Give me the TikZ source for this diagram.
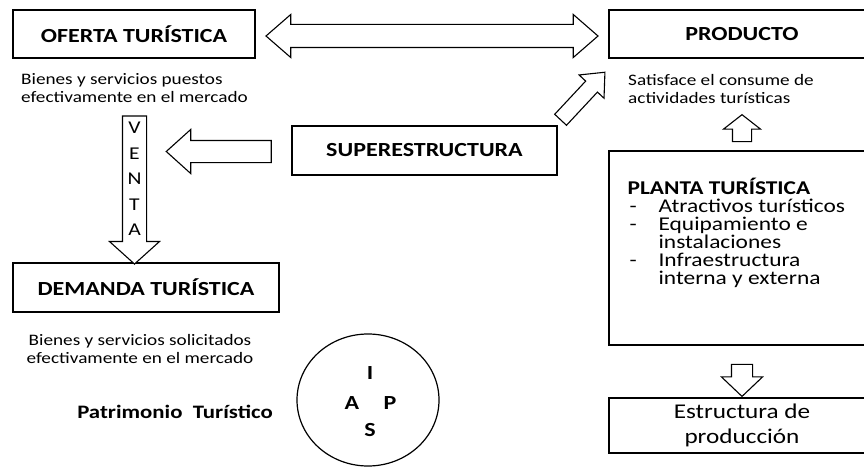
\documentclass[tikz,border=0pt]{standalone}
\usepackage{fontspec}
\setmainfont{Carlito}[FakeStretch=1.2]
\usetikzlibrary{shapes.arrows,shapes.geometric,calc}

\tikzset{
  box/.style={draw, line width=1.2pt, inner sep=0pt},
  headtxt/.style={font=\bfseries\fontsize{20}{24}\selectfont},
  desc/.style={font=\fontsize{16}{18}\selectfont, inner sep=0pt},
  blockarrow/.style={draw, line width=1.1pt, inner xsep=0pt, fill=white},
}

\begin{document}
\begin{tikzpicture}[x=1pt, y=-1pt]
  \useasboundingbox (0,0) rectangle (864,468);
%  \draw [help lines, step=20] (0,0) grid (864,468);

  % boxes
  \node [box, headtxt, minimum width=242, minimum height=48] (oferta) at (134,34) {OFERTA TURÍSTICA};
  \node [box, headtxt, minimum width=266, minimum height=48] (producto) at (742,34) {PRODUCTO};
  \node [box, headtxt, minimum width=265, minimum height=49] (sup) at (424.5,150.5) {SUPERESTRUCTURA};
  \node [box, headtxt, minimum width=266, minimum height=49] (demanda) at (146,287.5) {DEMANDA TURÍSTICA};
  \node [box, minimum width=266, minimum height=194] (planta) at (742,248) {};
  \node [box, minimum width=266, minimum height=55, align=center,
         font=\fontsize{21}{25}\selectfont] (estructura) at (742,425.5) {Estructura de\\producción};

  \node [desc, anchor=west, align=left] (ofertatxt) at (21,88)
    {Bienes y servicios puestos\\efectivamente en el mercado};
  \node [desc, anchor=west, align=left] (productotxt) at (628,89)
    {Satisface el consume de\\actividades turísticas};
  \node [desc, align=center] (demandatxt) at (140,349)
    {Bienes y servicios solicitados\\efectivamente en el mercado};

  \node [anchor=north west, inner sep=0pt, align=left, font=\fontsize{19.5}{18}\selectfont]
    (plantatxt) at ($(planta.north west)+(19,28)$)
    {\textbf{PLANTA TURÍSTICA}\\
     \makebox[31pt][l]{\hspace{2pt}-}Atractivos turísticos\\
     \makebox[31pt][l]{\hspace{2pt}-}Equipamiento e\\
     \hspace*{31pt}instalaciones\\
     \makebox[31pt][l]{\hspace{2pt}-}Infraestructura\\
     \hspace*{31pt}interna y externa};

  % block arrows
  \node [blockarrow, double arrow, inner ysep=11, minimum height=332, minimum width=42,
         double arrow head extend=10, double arrow tip angle=82]
    (ofpr) at ($(oferta.east)!0.5!(producto.west)+(0,2)$) {};
  \node [blockarrow, single arrow, inner ysep=10.5, minimum height=105, minimum width=43,
         single arrow head extend=11, single arrow tip angle=84, rotate=180]
    (supof) at ($(sup.west)+(-66.5,1)$) {};
  \node [blockarrow, single arrow, inner ysep=11.5, minimum height=148, minimum width=49,
         single arrow head extend=13, single arrow tip angle=96, rotate=-90]
    (venta) at ($(oferta.south)+(0.5,126)$) {};
  \node [font=\fontsize{18}{25.5}\selectfont, align=center, inner sep=0pt]
    (ventatxt) at (134.5,179) {V\\E\\N\\T\\A};
  \node [blockarrow, single arrow, inner ysep=7.5, minimum height=65, minimum width=33,
         single arrow head extend=9, single arrow tip angle=82, rotate=47]
    (suppr) at ($(sup.north east)+(22,-26)$) {};
  \node [blockarrow, single arrow, inner ysep=9, minimum height=27, minimum width=36,
         single arrow head extend=9, single arrow tip angle=104, rotate=90]
    (plpr) at ($(planta.north)+(0,-18.5)$) {};
  \node [blockarrow, single arrow, inner ysep=10, minimum height=32, minimum width=40,
         single arrow head extend=10, single arrow tip angle=93, rotate=-90]
    (ples) at ($(estructura.north)+(0,-22)$) {};

  % patrimonio
  \node [font=\bfseries\fontsize{19}{20}\selectfont] (patr) at (175,412) {Patrimonio~ Turístico};
  \node [draw, ellipse, line width=1.2pt, minimum width=142, minimum height=132] (iaps) at (368,400) {};
  \tikzset{iapstxt/.style={font=\bfseries\fontsize{20}{20}\selectfont, inner sep=0pt}}
  \node [iapstxt] (i) at ($(iaps.center)+(2,-27)$) {I};
  \node [iapstxt] (a) at ($(iaps.center)+(-16,3)$) {A};
  \node [iapstxt] (p) at ($(iaps.center)+(22,3)$) {P};
  \node [iapstxt] (s) at ($(iaps.center)+(2,30)$) {S};
\end{tikzpicture}
\end{document}
